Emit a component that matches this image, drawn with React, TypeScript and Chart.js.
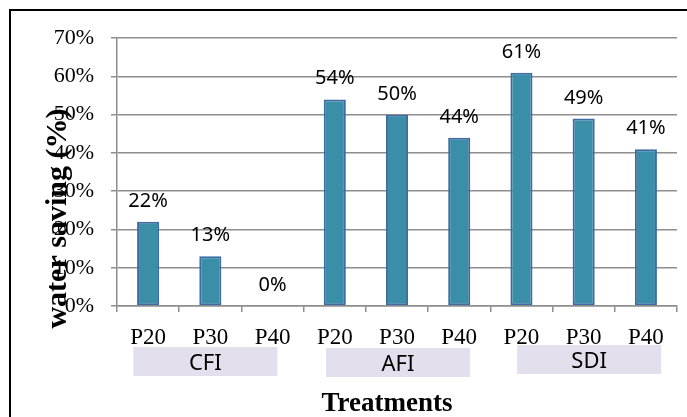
import { useEffect, useRef } from "react";
import { Chart, registerables } from "chart.js";

Chart.register(...registerables);

// Water saving (%) per irrigation treatment and level
const treatments = ["P20", "P30", "P40", "P20", "P30", "P40", "P20", "P30", "P40"];
const waterSaving = [22, 13, 0, 54, 50, 44, 61, 49, 41];
const methods = ["CFI", "AFI", "SDI"];
const yTickValues = [0, 10, 20, 30, 40, 50, 60, 70];

const SERIF = "'Liberation Serif', 'Times New Roman', serif";
const SANS = "'Noto Sans', 'Open Sans', sans-serif";
const GRID = "#8e8e8e";

// Black frame on the top and left edges of the chart object
const framePlugin = {
  id: "frame",
  afterDraw(chart: any) {
    const { ctx, width, height } = chart;
    ctx.save();
    ctx.fillStyle = "#000";
    ctx.fillRect(1, 1, width - 1, 2);
    ctx.fillRect(1, 1, 2, height - 1);
    ctx.restore();
  },
};

// Percentage labels above every bar
const valueLabelPlugin = {
  id: "valueLabels",
  afterDatasetsDraw(chart: any) {
    const { ctx } = chart;
    const meta = chart.getDatasetMeta(0);
    ctx.save();
    ctx.font = `20px ${SANS}`;
    ctx.fillStyle = "#000";
    ctx.textAlign = "center";
    ctx.textBaseline = "alphabetic";
    meta.data.forEach((bar: any, i: number) => {
      ctx.fillText(`${waterSaving[i]}%`, bar.x, bar.y - 15);
    });
    ctx.restore();
  },
};

// Category labels, method boxes and axis titles
const axisTextPlugin = {
  id: "axisText",
  afterDraw(chart: any) {
    const { ctx, chartArea } = chart;
    const xs = chart.scales.x;
    const bottom = chartArea.bottom;
    ctx.save();
    ctx.fillStyle = "#000";
    ctx.textAlign = "center";
    ctx.textBaseline = "alphabetic";

    // P20 / P30 / P40 labels
    ctx.font = `23px ${SERIF}`;
    treatments.forEach((t, i) => {
      ctx.fillText(t, xs.getPixelForValue(i), bottom + 37.5);
    });

    // method boxes under each group of three bars
    const boxShift = [-5, 1, 5.5];
    const boxTop = [41, 42, 39];
    const boxW = 144;
    const boxH = 29;
    methods.forEach((m, g) => {
      const cx =
        (xs.getPixelForValue(g * 3) + xs.getPixelForValue(g * 3 + 2)) / 2 + boxShift[g];
      const top = bottom + boxTop[g];
      ctx.fillStyle = "#e4dfec";
      ctx.fillRect(cx - boxW / 2, top, boxW, boxH);
      ctx.fillStyle = "#000";
      ctx.font = `22px ${SANS}`;
      ctx.fillText(m, cx, top + 22.5);
    });

    // x axis title
    ctx.font = `bold 27px ${SERIF}`;
    ctx.fillText("Treatments", (chartArea.left + chartArea.right) / 2 - 10, bottom + 105);

    // y axis title
    ctx.translate(chartArea.left - 51, (chartArea.top + chartArea.bottom) / 2 + 46.5);
    ctx.rotate(-Math.PI / 2);
    ctx.font = `bold 30px ${SERIF}`;
    ctx.fillText("water saving (%)", 0, 0);
    ctx.restore();
  },
};

export default function App() {
  const canvasRef = useRef<HTMLCanvasElement | null>(null);

  useEffect(() => {
    if (!canvasRef.current) return;
    const chart = new Chart(canvasRef.current, {
      type: "bar",
      data: {
        labels: treatments,
        datasets: [
          {
            data: waterSaving,
            backgroundColor: "#3a8ea8",
            borderColor: "#3d6ba3",
            borderWidth: 2,
            borderSkipped: false,
            barPercentage: 0.355,
            categoryPercentage: 1,
          },
        ],
      },
      options: {
        animation: false,
        responsive: false,
        devicePixelRatio: 1,
        layout: { padding: { top: 21, right: 10, left: 0, bottom: 0 } },
        plugins: {
          legend: { display: false },
          tooltip: { enabled: false },
        },
        scales: {
          x: {
            type: "category",
            offset: true,
            grid: {
              display: true,
              offset: true,
              drawOnChartArea: false,
              drawTicks: true,
              tickLength: 6,
              color: GRID,
              lineWidth: 1.5,
            },
            border: { display: true, color: GRID, width: 1.5 },
            ticks: { display: false },
            afterFit: (s: any) => {
              s.height = 111;
            },
          },
          y: {
            min: 0,
            max: 70,
            grid: {
              color: GRID,
              lineWidth: 1.5,
              drawTicks: true,
              tickLength: 6,
            },
            border: { display: true, color: GRID, width: 1.5 },
            afterBuildTicks: (s: any) => {
              s.ticks = yTickValues.map((v) => ({ value: v }));
            },
            ticks: {
              color: "#000",
              padding: 17,
              font: { family: SERIF, size: 22 },
              callback: (v: any) => `${v}%`,
            },
            afterFit: (s: any) => {
              s.width = 109;
            },
          },
        },
      },
      plugins: [valueLabelPlugin, axisTextPlugin, framePlugin],
    });
    return () => chart.destroy();
  }, []);

  return (
    <canvas
      ref={canvasRef}
      width={679}
      height={409}
      style={{ position: "fixed", left: 8, top: 8, width: 679, height: 409 }}
    />
  );
}
